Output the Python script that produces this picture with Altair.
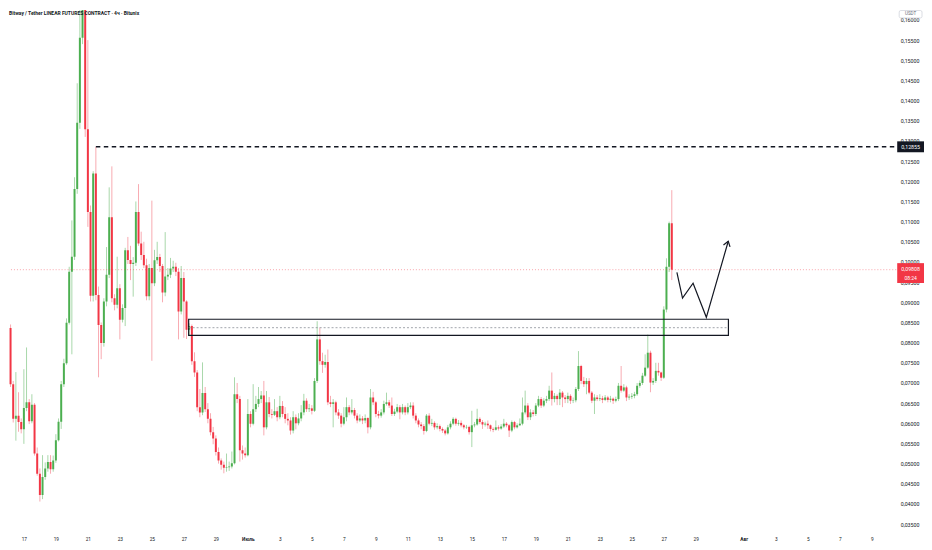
import pandas as pd
import altair as alt

# ── velas de 4h (barra 0 = 17/06 00:00) ────────────────────────────────────
first_bar = -6
first_open = 0.0902

closes = [
    0.0836, 0.0697, 0.0611, 0.0619, 0.0603, 0.0585, 0.0638, 0.0652, 0.0605, 0.0646,
    0.0525, 0.0475, 0.0422, 0.0467, 0.0488, 0.0504, 0.0486, 0.0508, 0.0558, 0.0604,
    0.0697, 0.0749, 0.0849, 0.0976, 0.1013, 0.1181, 0.1345, 0.1556, 0.1665, 0.1329,
    0.1124, 0.0916, 0.1219, 0.0918, 0.0844, 0.0799, 0.0902, 0.0968, 0.1111, 0.0910,
    0.0894, 0.0935, 0.0857, 0.0886, 0.1029, 0.1005, 0.0995, 0.0998, 0.1124, 0.1046,
    0.1017, 0.0992, 0.0915, 0.0985, 0.0947, 0.1004, 0.1012, 0.0990, 0.0924, 0.0964,
    0.0968, 0.0984, 0.0988, 0.0976, 0.0877, 0.0960, 0.0902, 0.0832, 0.0841, 0.0754,
    0.0726, 0.0640, 0.0627, 0.0675, 0.0635, 0.0611, 0.0578, 0.0562, 0.0529, 0.0508,
    0.0497, 0.0490, 0.0491, 0.0493, 0.0501, 0.0672, 0.0660, 0.0533, 0.0525, 0.0521,
    0.0623, 0.0599, 0.0635, 0.0648, 0.0660, 0.0669, 0.0590, 0.0652, 0.0623, 0.0621,
    0.0630, 0.0615, 0.0643, 0.0623, 0.0611, 0.0607, 0.0582, 0.0615, 0.0600, 0.0612,
    0.0627, 0.0656, 0.0635, 0.0637, 0.0631, 0.0705, 0.0808, 0.0754, 0.0745, 0.0752,
    0.0652, 0.0648, 0.0652, 0.0627, 0.0619, 0.0599, 0.0615, 0.0640, 0.0627, 0.0633,
    0.0619, 0.0607, 0.0612, 0.0607, 0.0613, 0.0590, 0.0664, 0.0652, 0.0623, 0.0619,
    0.0627, 0.0648, 0.0652, 0.0644, 0.0623, 0.0629, 0.0640, 0.0627, 0.0640, 0.0627,
    0.0640, 0.0644, 0.0619, 0.0607, 0.0597, 0.0593, 0.0581, 0.0619, 0.0599, 0.0601,
    0.0590, 0.0593, 0.0586, 0.0582, 0.0575, 0.0590, 0.0599, 0.0611, 0.0599, 0.0601,
    0.0595, 0.0590, 0.0591, 0.0578, 0.0595, 0.0597, 0.0611, 0.0603, 0.0597, 0.0599,
    0.0595, 0.0586, 0.0584, 0.0590, 0.0587, 0.0592, 0.0599, 0.0595, 0.0582, 0.0603,
    0.0590, 0.0595, 0.0599, 0.0627, 0.0644, 0.0615, 0.0627, 0.0623, 0.0644, 0.0660,
    0.0644, 0.0656, 0.0660, 0.0681, 0.0660, 0.0668, 0.0660, 0.0676, 0.0664, 0.0660,
    0.0668, 0.0656, 0.0657, 0.0685, 0.0742, 0.0705, 0.0697, 0.0705, 0.0676, 0.0656,
    0.0664, 0.0660, 0.0662, 0.0658, 0.0664, 0.0658, 0.0661, 0.0656, 0.0660, 0.0693,
    0.0681, 0.0689, 0.0664, 0.0666, 0.0668, 0.0672, 0.0693, 0.0700, 0.0718, 0.0738,
    0.0775, 0.0701, 0.0705, 0.0730, 0.0726, 0.0713, 0.0882, 0.0988, 0.1096, 0.09808,
]

highs = [
    0.0972, 0.0845, 0.0705, 0.0727, 0.0677, 0.0612, 0.0734, 0.0788, 0.0660, 0.0672,
    0.0650, 0.0540, 0.0488, 0.0521, 0.0503, 0.0521, 0.0521, 0.0520, 0.0573, 0.0612,
    0.0705, 0.0760, 0.0860, 0.0988, 0.1103, 0.1210, 0.1443, 0.1650, 0.1720, 0.1700,
    0.1550, 0.1140, 0.1225, 0.12855, 0.0939, 0.0850, 0.0910, 0.1037, 0.1185, 0.1237,
    0.0920, 0.1013, 0.0945, 0.0895, 0.1035, 0.1062, 0.1040, 0.1012, 0.1150, 0.1193,
    0.1075, 0.1050, 0.1008, 0.0995, 0.1152, 0.1030, 0.1050, 0.1020, 0.0995, 0.1074,
    0.0985, 0.1010, 0.1003, 0.0998, 0.0985, 0.0990, 0.0975, 0.0905, 0.0848, 0.0845,
    0.0776, 0.0732, 0.0685, 0.0751, 0.0690, 0.0650, 0.0625, 0.0591, 0.0570, 0.0540,
    0.0513, 0.0505, 0.0525, 0.0505, 0.0530, 0.0714, 0.0700, 0.0668, 0.0545, 0.0540,
    0.0660, 0.0630, 0.0697, 0.0668, 0.0690, 0.0680, 0.0705, 0.0680, 0.0665, 0.0635,
    0.0660, 0.0640, 0.0668, 0.0655, 0.0640, 0.0625, 0.0615, 0.0630, 0.0622, 0.0625,
    0.0645, 0.0673, 0.0662, 0.0648, 0.0645, 0.0712, 0.0853, 0.0837, 0.0775, 0.0770,
    0.0783, 0.0668, 0.0660, 0.0656, 0.0635, 0.0625, 0.0640, 0.0664, 0.0645, 0.0660,
    0.0638, 0.0625, 0.0622, 0.0618, 0.0622, 0.0615, 0.0685, 0.0678, 0.0655, 0.0631,
    0.0635, 0.0656, 0.0676, 0.0658, 0.0664, 0.0636, 0.0648, 0.0645, 0.0648, 0.0644,
    0.0650, 0.0652, 0.0652, 0.0625, 0.0612, 0.0603, 0.0598, 0.0623, 0.0625, 0.0611,
    0.0605, 0.0600, 0.0597, 0.0590, 0.0586, 0.0596, 0.0605, 0.0615, 0.0614, 0.0608,
    0.0607, 0.0598, 0.0596, 0.0594, 0.0631, 0.0603, 0.0636, 0.0615, 0.0608, 0.0604,
    0.0607, 0.0597, 0.0590, 0.0607, 0.0595, 0.0598, 0.0611, 0.0603, 0.0598, 0.0607,
    0.0606, 0.0600, 0.0612, 0.0664, 0.0681, 0.0650, 0.0635, 0.0633, 0.0650, 0.0668,
    0.0665, 0.0662, 0.0668, 0.0693, 0.0726, 0.0675, 0.0672, 0.0685, 0.0680, 0.0670,
    0.0676, 0.0672, 0.0664, 0.0690, 0.0779, 0.0745, 0.0715, 0.0712, 0.0712, 0.0680,
    0.0672, 0.0670, 0.0672, 0.0668, 0.0670, 0.0668, 0.0668, 0.0664, 0.0666, 0.0700,
    0.0742, 0.0697, 0.0693, 0.0672, 0.0675, 0.0678, 0.0700, 0.0706, 0.0725, 0.0771,
    0.0820, 0.0780, 0.0712, 0.0750, 0.0750, 0.0728, 0.0890, 0.1009, 0.1100, 0.1178,
]

lows = [
    0.0800, 0.0690, 0.0602, 0.0557, 0.0579, 0.0575, 0.0549, 0.0630, 0.0598, 0.0600,
    0.0520, 0.0470, 0.0406, 0.0412, 0.0460, 0.0480, 0.0475, 0.0480, 0.0502, 0.0555,
    0.0586, 0.0690, 0.0745, 0.0845, 0.0771, 0.1005, 0.1169, 0.1330, 0.1540, 0.1310,
    0.1087, 0.0902, 0.0902, 0.0905, 0.0714, 0.0759, 0.0790, 0.0890, 0.0960, 0.0900,
    0.0880, 0.0885, 0.0808, 0.0850, 0.0841, 0.0995, 0.0955, 0.0914, 0.0990, 0.1040,
    0.1005, 0.0985, 0.0905, 0.0905, 0.0755, 0.0940, 0.0995, 0.0975, 0.0900, 0.0915,
    0.0955, 0.0960, 0.0975, 0.0965, 0.0808, 0.0870, 0.0812, 0.0809, 0.0816, 0.0745,
    0.0715, 0.0630, 0.0615, 0.0620, 0.0628, 0.0600, 0.0570, 0.0548, 0.0520, 0.0500,
    0.0485, 0.0476, 0.0480, 0.0482, 0.0488, 0.0498, 0.0650, 0.0505, 0.0510, 0.0515,
    0.0518, 0.0590, 0.0595, 0.0628, 0.0640, 0.0650, 0.0570, 0.0585, 0.0615, 0.0612,
    0.0618, 0.0605, 0.0610, 0.0615, 0.0600, 0.0595, 0.0572, 0.0575, 0.0585, 0.0595,
    0.0605, 0.0620, 0.0628, 0.0628, 0.0622, 0.0628, 0.0700, 0.0745, 0.0725, 0.0738,
    0.0645, 0.0640, 0.0590, 0.0620, 0.0611, 0.0590, 0.0595, 0.0605, 0.0620, 0.0622,
    0.0612, 0.0600, 0.0603, 0.0598, 0.0600, 0.0575, 0.0585, 0.0645, 0.0615, 0.0612,
    0.0614, 0.0622, 0.0644, 0.0638, 0.0618, 0.0618, 0.0625, 0.0610, 0.0622, 0.0620,
    0.0622, 0.0635, 0.0612, 0.0600, 0.0590, 0.0585, 0.0572, 0.0578, 0.0595, 0.0593,
    0.0584, 0.0585, 0.0580, 0.0576, 0.0570, 0.0572, 0.0585, 0.0595, 0.0594, 0.0594,
    0.0590, 0.0585, 0.0586, 0.0572, 0.0541, 0.0590, 0.0594, 0.0598, 0.0586, 0.0592,
    0.0586, 0.0580, 0.0578, 0.0582, 0.0582, 0.0584, 0.0588, 0.0590, 0.0566, 0.0578,
    0.0585, 0.0587, 0.0593, 0.0595, 0.0622, 0.0608, 0.0608, 0.0617, 0.0618, 0.0640,
    0.0638, 0.0640, 0.0650, 0.0655, 0.0644, 0.0652, 0.0645, 0.0645, 0.0640, 0.0650,
    0.0650, 0.0648, 0.0650, 0.0652, 0.0680, 0.0697, 0.0690, 0.0672, 0.0672, 0.0650,
    0.0623, 0.0655, 0.0655, 0.0650, 0.0655, 0.0652, 0.0652, 0.0648, 0.0652, 0.0655,
    0.0676, 0.0678, 0.0655, 0.0658, 0.0660, 0.0662, 0.0668, 0.0688, 0.0695, 0.0715,
    0.0735, 0.0677, 0.0695, 0.0700, 0.0718, 0.0705, 0.0710, 0.0875, 0.0975, 0.0955,
]

# eixo de tempo: dias desde 17/06
tick_days = [0, 2, 4, 6, 8, 10, 12, 14, 16, 18, 20, 22, 24, 26, 28, 30, 32, 34,
             36, 38, 40, 42, 45, 47, 49, 51, 53]
tick_labels = ["17", "19", "21", "23", "25", "27", "29", "Июль", "3", "5", "7", "9",
               "11", "13", "15", "17", "19", "21", "23", "25", "27", "29", "Авг",
               "3", "5", "7", "9"]
month_days = [14, 45]

y_ticks = [0.035, 0.040, 0.045, 0.050, 0.055, 0.060, 0.065, 0.070, 0.075, 0.080,
           0.085, 0.090, 0.095, 0.100, 0.105, 0.110, 0.115, 0.120, 0.125, 0.130,
           0.135, 0.140, 0.145, 0.150, 0.155, 0.160]

# níveis e desenhos
resistance = 0.12855
resistance_from = 4.5
last_price = 0.09808
last_clock = "08:24"
zone_days = [10.30, 44.04]
zone_prices = [0.0818, 0.0858]
zone_mid = 0.0837
path_days = [40.82, 41.17, 41.83, 42.66, 44.03]
path_prices = [0.09743, 0.09104, 0.09473, 0.08627, 0.10514]
head_days = [43.73, 44.03, 44.14]
head_prices = [0.10419, 0.10514, 0.10373]

titulo = "Bitway / Tether LINEAR FUTURES CONTRACT · 4ч · Bitunix"

# ── estilo ────────────────────────────────────────────────────────────────
W, H = 894, 527
x_dom = [-0.9305, 54.528]
y_dom = [0.03279, 0.16246]
px = (y_dom[1] - y_dom[0]) / H
UP, DOWN = "#4caf50", "#f23645"
UP_WICK, DOWN_WICK = "#a8d8aa", "#f8aab1"
INK = "#131722"
FONT = "Roboto"

n = len(closes)
df = pd.DataFrame({
    "day": [(first_bar + i) / 6 for i in range(n)],
    "open": [first_open] + closes[:-1],
    "close": closes,
    "high": highs,
    "low": lows,
})
df["high"] = df[["high", "open", "close"]].max(axis=1)
df["low"] = df[["low", "open", "close"]].min(axis=1)

# padding=0: sem o recuo automático que o Vega-Lite põe para barras
x_scale = alt.Scale(domain=x_dom, nice=False, zero=False, padding=0)
y_scale = alt.Scale(domain=y_dom, nice=False, zero=False, padding=0)

x_axis = alt.Axis(
    values=tick_days,
    labelExpr=f"{tick_labels}[indexof({tick_days}, datum.value)]",
    labelFontSize=4.8, labelColor=INK, labelFont=FONT, labelPadding=4,
    labelFontWeight={"condition": {"test": f"indexof({month_days}, datum.value) >= 0",
                                   "value": "bold"}, "value": "normal"},
    labelOverlap=False, labelFlush=False,
    grid=False, domain=False, ticks=False, title=None,
)
y_axis = alt.Axis(
    orient="right", values=y_ticks,
    labelExpr="replace(format(datum.value, '.5f'), '.', ',')",
    labelFontSize=5.3, labelColor=INK, labelFont=FONT, labelPadding=4,
    labelOverlap=False, labelFlush=False,
    grid=False, domain=False, ticks=False, title=None,
)

# todas as camadas usam os mesmos eixos (senão o Vega-Lite descarta o eixo)
def xq(field):
    return alt.X(field, type="quantitative", scale=x_scale, axis=x_axis)

def yq(field):
    return alt.Y(field, type="quantitative", scale=y_scale, axis=y_axis)

up = "datum.close >= datum.open"

pavios = alt.Chart(df).mark_rule(strokeWidth=1, clip=True).encode(
    x=xq("day"), y=yq("low"), y2="high:Q",
    color=alt.condition(up, alt.value(UP_WICK), alt.value(DOWN_WICK)),
)
corpos = alt.Chart(df).mark_bar(width=2, clip=True).encode(
    x=xq("day"), y=yq("open"), y2="close:Q",
    color=alt.condition(up, alt.value(UP), alt.value(DOWN)),
)

linha_preco = alt.Chart(pd.DataFrame({"p": [last_price]})).mark_rule(
    color=DOWN, opacity=0.45, strokeWidth=1, strokeDash=[1, 2]
).encode(y=yq("p"))

res = alt.Chart(pd.DataFrame({"a": [resistance_from], "b": [x_dom[1]], "p": [resistance]})).mark_rule(
    color=INK, strokeWidth=1.4, strokeDash=[4.5, 3.5], clip=True
).encode(x=xq("a"), x2="b:Q", y=yq("p"))

zona = alt.Chart(pd.DataFrame({"a": [zone_days[0]], "b": [zone_days[1]],
                               "lo": [zone_prices[0]], "hi": [zone_prices[1]]})).mark_rect(
    color=INK, fillOpacity=0, stroke=INK, strokeWidth=1.2
).encode(x=xq("a"), x2="b:Q", y=yq("lo"), y2="hi:Q")

zona_meio = alt.Chart(pd.DataFrame({"a": [zone_days[0]], "b": [zone_days[1]], "p": [zone_mid]})).mark_rule(
    color="#8a8d96", strokeWidth=0.8, strokeDash=[2, 2]
).encode(x=xq("a"), x2="b:Q", y=yq("p"))

caminho = alt.Chart(pd.DataFrame({"d": path_days, "p": path_prices, "i": range(len(path_days))})).mark_line(
    color=INK, strokeWidth=1.2
).encode(x=xq("d"), y=yq("p"), order="i:Q")

ponta = alt.Chart(pd.DataFrame({"d": head_days, "p": head_prices, "i": range(len(head_days))})).mark_line(
    color=INK, strokeWidth=1.2
).encode(x=xq("d"), y=yq("p"), order="i:Q")

texto_titulo = alt.Chart(pd.DataFrame({"t": [titulo]})).mark_text(
    align="left", baseline="middle", fontSize=5, fontWeight="bold", color=INK, font=FONT
).encode(x=alt.value(0), y=alt.value(3.5), text="t:N")

# etiquetas do eixo de preço
tag_res = alt.Chart(pd.DataFrame({"hi": [resistance + 5.5 * px], "lo": [resistance - 5.5 * px]})).mark_rect(
    color=INK
).encode(x=alt.value(W + 1), x2=alt.value(W + 28), y=yq("hi"), y2="lo:Q")
tag_res_txt = alt.Chart(pd.DataFrame({"p": [resistance], "t": ["0,12855"]})).mark_text(
    color="white", fontSize=5.3, font=FONT, align="center", baseline="middle"
).encode(x=alt.value(W + 14.5), y=yq("p"), text="t:N")

tag_last = alt.Chart(pd.DataFrame({"hi": [last_price + 6.6 * px], "lo": [last_price - 13.4 * px]})).mark_rect(
    color=DOWN
).encode(x=alt.value(W + 1), x2=alt.value(W + 28), y=yq("hi"), y2="lo:Q")
tag_last_txt = alt.Chart(pd.DataFrame({"p": [last_price], "t": ["0,09808"]})).mark_text(
    color="white", fontSize=5.3, font=FONT, align="center", baseline="middle", dy=-1
).encode(x=alt.value(W + 14.5), y=yq("p"), text="t:N")
tag_clock_txt = alt.Chart(pd.DataFrame({"p": [last_price], "t": [last_clock]})).mark_text(
    color="white", fontSize=5.0, font=FONT, align="center", baseline="middle", dy=8
).encode(x=alt.value(W + 14.5), y=yq("p"), text="t:N")

usdt_box = alt.Chart(pd.DataFrame({"t": ["USDT"]})).mark_rect(
    color="white", stroke="#d1d4dc", strokeWidth=0.8, cornerRadius=1.5
).encode(x=alt.value(W + 3), x2=alt.value(W + 26), y=alt.value(0.5), y2=alt.value(8))
usdt_txt = alt.Chart(pd.DataFrame({"t": ["USDT"]})).mark_text(
    color="#6a6d78", fontSize=4.6, font=FONT, align="center", baseline="middle"
).encode(x=alt.value(W + 14.5), y=alt.value(4.5), text="t:N")

chart = alt.layer(
    pavios, corpos, linha_preco, res, zona, zona_meio, caminho, ponta,
    texto_titulo, tag_res, tag_res_txt, tag_last, tag_last_txt, tag_clock_txt,
    usdt_box, usdt_txt,
).properties(
    width=W, height=H, padding=0, background="white"
).configure_view(strokeWidth=0)

chart.save("out.html", embed_options={"renderer": "svg", "actions": False})
